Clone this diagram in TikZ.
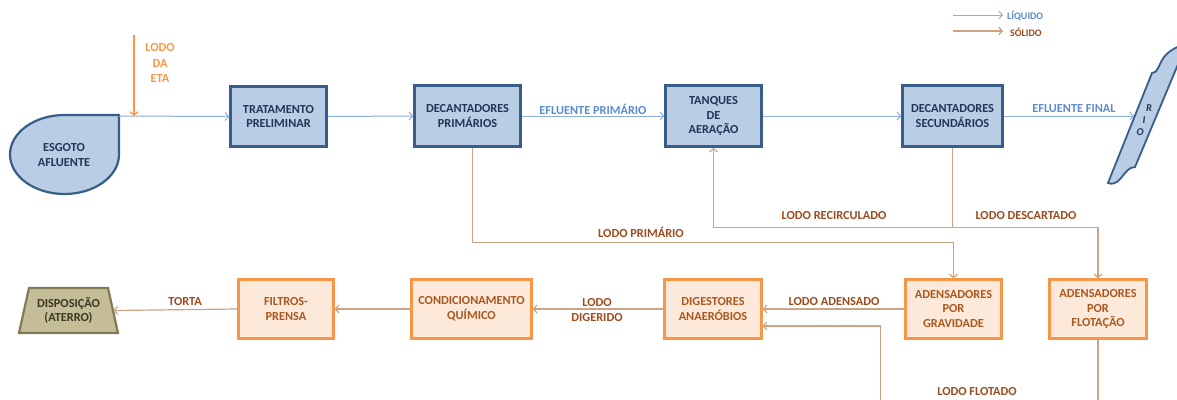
\documentclass[tikz,border=0pt]{standalone}
\usepackage{fontspec}
\setmainfont{Carlito}
\usetikzlibrary{arrows.meta,calc}
\definecolor{bfill}{HTML}{B9CDE5}
\definecolor{bdraw}{HTML}{385D8A}
\definecolor{btext}{HTML}{1F3657}
\definecolor{bline}{HTML}{8EAEDB}
\definecolor{blabel}{HTML}{5B8BD0}
\definecolor{ofill}{HTML}{FDE9D9}
\definecolor{odraw}{HTML}{F79646}
\definecolor{otext}{HTML}{A9581F}
\definecolor{oline}{HTML}{CDA385}
\definecolor{olabel}{HTML}{9C4A1E}
\definecolor{etacol}{HTML}{F79646}
\definecolor{dfill}{HTML}{C4BD97}
\definecolor{ddraw}{HTML}{7F7B55}
\definecolor{dtext}{HTML}{3A3820}
\begin{document}
\begin{tikzpicture}[x=1pt,y=-1pt,
  txt/.style={font=\fontsize{12.3}{14.8}\selectfont\bfseries, align=center, inner sep=0pt},
  bluebox/.style={txt, draw=bdraw, fill=bfill, line width=2.5pt, text=btext},
  orangebox/.style={txt, draw=odraw, fill=ofill, line width=2.3pt, text=otext},
  tip/.style={-{Straight Barb[length=3.5pt,width=8pt]}},
  liq/.style={tip, draw=bline, line width=1pt},
  sol/.style={tip, draw=oline, line width=1.2pt},
  lablq/.style={txt, text=blabel},
  labsol/.style={txt, text=olabel},
  legtxt/.style={font=\fontsize{10}{11}\selectfont\bfseries, inner sep=0pt, anchor=west},
  rioltr/.style={font=\fontsize{10.5}{11}\selectfont\bfseries\itshape, text=btext, inner sep=0pt}
]
\useasboundingbox (0,0) rectangle (1177,399);
\clip (0,0) rectangle (1177,399);

% legend
\coordinate (l1a) at (953,15); \coordinate (l1b) at (1003,15);
\coordinate (l2a) at (953,31); \coordinate (l2b) at (1003,31);
\draw[liq] (l1a) -- (l1b);
\draw[sol] (l2a) -- (l2b);
\node[legtxt, text=blabel] (legl) at (1007,16) {LÍQUIDO};
\node[legtxt, text=olabel] (legs) at (1010,32) {SÓLIDO};

% esgoto afluente
\draw[draw=bdraw, fill=bfill, line width=2.2pt]
  (119,115) -- (119,154.5) arc[start angle=0, end angle=270, x radius=54.5, y radius=39.5] -- cycle;
\node[txt, text=btext] (esg) at (64,155) {ESGOTO\\AFLUENTE};
\coordinate (esgc) at (119,116);

% rio
\draw[draw=bdraw, fill=bfill, line width=1.8pt]
  (1108,183) -- (1152,73) .. controls (1157,74) and (1159,64) .. (1164,57)
  .. controls (1168,52) and (1174,48) .. (1184,44) -- (1184,50) -- (1135,167)
  .. controls (1129,167) and (1126,172) .. (1121,178)
  .. controls (1117,183) and (1112,185) .. (1108,183) -- cycle;
\coordinate (rio) at (1134,116);
\node[rioltr] (rioR) at (1149,108) {R};
\node[rioltr] (rioI) at (1144,120) {I};
\node[rioltr] (rioO) at (1140,132) {O};

% blue boxes
\node[bluebox, minimum width=96, minimum height=60] (tp) at (278.5,116.5) {TRATAMENTO\\PRELIMINAR};
\node[bluebox, minimum width=106, minimum height=61] (dp) at (467.5,116) {DECANTADORES\\PRIMÁRIOS};
\node[bluebox, minimum width=96, minimum height=61] (ta) at (713.5,116) {TANQUES\\DE\\AERAÇÃO};
\node[bluebox, minimum width=100, minimum height=61] (ds) at (952.5,116) {DECANTADORES\\SECUNDÁRIOS};

% orange boxes
\node[orangebox, minimum width=95, minimum height=59] (fp) at (286,309) {FILTROS-\\PRENSA};
\node[orangebox, minimum width=120, minimum height=59] (cq) at (471.5,309) {CONDICIONAMENTO\\QUÍMICO};
\node[orangebox, minimum width=97, minimum height=59] (da) at (713,309) {DIGESTORES\\ANAERÓBIOS};
\node[orangebox, minimum width=96, minimum height=59] (ag) at (953.5,309) {ADENSADORES\\POR\\GRAVIDADE};
\node[orangebox, minimum width=97, minimum height=59] (af) at (1098,309) {ADENSADORES\\POR\\FLOTAÇÃO};

% disposicao
\draw[draw=ddraw, fill=dfill, line width=2.2pt] (29,288) -- (108,288) -- (118,333) -- (19,333) -- cycle;
\node[txt, text=dtext, minimum width=89, minimum height=45] (disp) at (68.5,310.5) {DISPOSIÇÃO\\(ATERRO)};

% lodo da ETA
\coordinate (eta) at (134,35);
\draw[tip, draw=etacol, line width=1.2pt] (eta) -- (eta |- esgc);
\node[txt, text=etacol] (etal) at (160,63) {LODO\\[1pt]DA\\[1pt]ETA};

% liquid flow
\draw[liq] (esgc) -- (tp.west);
\draw[liq] (tp.east) -- (dp.west);
\draw[liq] (dp.east) -- (ta.west);
\draw[liq] (ta.east) -- (ds.west);
\draw[liq] (ds.east) -- (rio);
\node[lablq] (efp) at (593,109) {EFLUENTE PRIMÁRIO};
\node[lablq] (eff) at (1074,109) {EFLUENTE FINAL};

% solids
\draw[sol] ($(dp.south)+(5,0)$) -- ++(0,95) -| (ag.north);
\node[labsol] (lp) at (641,232) {LODO PRIMÁRIO};
\coordinate (rec) at ($(ds.south)+(0,80)$);
\draw[sol] (ds.south) -- (rec) -| (ta.south);
\draw[sol] (rec) -| (af.north);
\node[labsol] (lr) at (834,216) {LODO RECIRCULADO};
\node[labsol] (ld) at (1026,216) {LODO DESCARTADO};
\draw[sol] (ag.west) -- (da.east);
\node[labsol] (la) at (834,302) {LODO ADENSADO};
\coordinate (flt) at ($(da.east)+(118,17)$);
\draw[sol] (af.south) -- ++(0,66) -| (flt) -- ($(da.east)+(0,17)$);
\node[labsol] (lf) at (977,392) {LODO FLOTADO};
\draw[sol] (da.west) -- (cq.east);
\node[labsol] (ldg) at (597,310) {LODO\\[1pt]DIGERIDO};
\draw[sol] (cq.west) -- (fp.east);
\draw[sol] (fp.west) -- (disp.east);
\node[labsol] (lt) at (185,302) {TORTA};
\end{tikzpicture}
\end{document}
